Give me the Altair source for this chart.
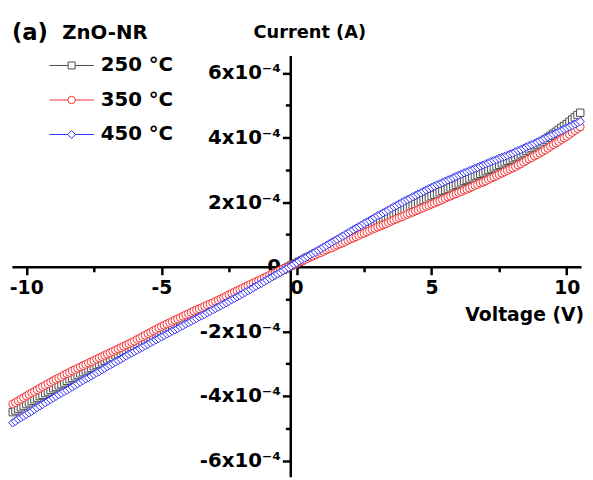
import altair as alt
import pandas as pd

# ---- data (current in units of 1e-4 A), voltage sweep -10.5 V .. 10.5 V in 0.1 V steps ----
voltage = [round(-10.5 + 0.1 * i, 1) for i in range(211)]

current_250 = [
    -4.50, -4.45, -4.40, -4.35, -4.30, -4.25, -4.20, -4.15, -4.10, -4.05,
    -4.00, -3.96, -3.91, -3.86, -3.81, -3.76, -3.72, -3.67, -3.63, -3.58,
    -3.53, -3.48, -3.44, -3.39, -3.35, -3.30, -3.26, -3.21, -3.17, -3.13,
    -3.08, -3.04, -3.00, -2.96, -2.91, -2.87, -2.83, -2.79, -2.74, -2.70,
    -2.66, -2.62, -2.57, -2.53, -2.49, -2.45, -2.40, -2.36, -2.32, -2.28,
    -2.23, -2.19, -2.15, -2.11, -2.06, -2.02, -1.98, -1.94, -1.89, -1.85,
    -1.81, -1.77, -1.72, -1.68, -1.64, -1.60, -1.56, -1.52, -1.48, -1.44,
    -1.39, -1.35, -1.31, -1.27, -1.23, -1.19, -1.14, -1.10, -1.06, -1.02,
    -0.97, -0.93, -0.89, -0.85, -0.80, -0.76, -0.71, -0.67, -0.62, -0.58,
    -0.53, -0.48, -0.44, -0.39, -0.35, -0.30, -0.26, -0.22, -0.17, -0.13,
    -0.09, -0.05, 0.00, 0.04, 0.08, 0.12, 0.16, 0.20, 0.25, 0.29,
    0.33, 0.37, 0.42, 0.46, 0.50, 0.54, 0.59, 0.63, 0.67, 0.71,
    0.76, 0.80, 0.84, 0.88, 0.93, 0.97, 1.01, 1.05, 1.09, 1.13,
    1.18, 1.22, 1.26, 1.30, 1.34, 1.38, 1.42, 1.46, 1.50, 1.54,
    1.59, 1.63, 1.67, 1.71, 1.75, 1.79, 1.83, 1.87, 1.91, 1.95,
    1.99, 2.03, 2.07, 2.11, 2.15, 2.19, 2.23, 2.27, 2.31, 2.35,
    2.38, 2.42, 2.46, 2.50, 2.54, 2.58, 2.62, 2.66, 2.69, 2.73,
    2.77, 2.81, 2.84, 2.88, 2.92, 2.96, 3.00, 3.04, 3.08, 3.12,
    3.16, 3.20, 3.24, 3.28, 3.32, 3.36, 3.40, 3.45, 3.49, 3.54,
    3.59, 3.64, 3.68, 3.73, 3.77, 3.82, 3.88, 3.94, 4.00, 4.06,
    4.12, 4.18, 4.24, 4.30, 4.36, 4.42, 4.49, 4.56, 4.63, 4.70,
    4.77,
]
current_350 = [
    -4.25, -4.20, -4.15, -4.10, -4.05, -4.00, -3.95, -3.90, -3.86, -3.81,
    -3.76, -3.71, -3.67, -3.62, -3.57, -3.52, -3.48, -3.44, -3.40, -3.35,
    -3.31, -3.27, -3.22, -3.18, -3.14, -3.10, -3.06, -3.02, -2.98, -2.94,
    -2.90, -2.86, -2.82, -2.78, -2.74, -2.70, -2.66, -2.62, -2.58, -2.54,
    -2.50, -2.46, -2.42, -2.38, -2.34, -2.30, -2.25, -2.21, -2.16, -2.12,
    -2.07, -2.03, -1.98, -1.94, -1.89, -1.85, -1.81, -1.77, -1.73, -1.69,
    -1.65, -1.61, -1.57, -1.53, -1.49, -1.45, -1.41, -1.37, -1.33, -1.30,
    -1.26, -1.22, -1.18, -1.15, -1.11, -1.07, -1.03, -0.99, -0.95, -0.91,
    -0.86, -0.82, -0.78, -0.74, -0.70, -0.66, -0.62, -0.58, -0.54, -0.50,
    -0.46, -0.42, -0.38, -0.34, -0.30, -0.26, -0.22, -0.19, -0.15, -0.11,
    -0.07, -0.04, 0.00, 0.04, 0.07, 0.11, 0.15, 0.18, 0.22, 0.26,
    0.30, 0.33, 0.37, 0.41, 0.44, 0.48, 0.52, 0.56, 0.59, 0.63,
    0.67, 0.71, 0.74, 0.78, 0.82, 0.86, 0.89, 0.93, 0.97, 1.01,
    1.04, 1.08, 1.12, 1.16, 1.19, 1.23, 1.26, 1.30, 1.33, 1.37,
    1.41, 1.45, 1.48, 1.52, 1.55, 1.59, 1.62, 1.66, 1.69, 1.73,
    1.76, 1.80, 1.83, 1.87, 1.90, 1.94, 1.97, 2.01, 2.04, 2.08,
    2.12, 2.16, 2.19, 2.23, 2.26, 2.30, 2.33, 2.37, 2.40, 2.44,
    2.48, 2.52, 2.55, 2.59, 2.62, 2.66, 2.70, 2.74, 2.78, 2.82,
    2.86, 2.90, 2.94, 2.98, 3.02, 3.06, 3.10, 3.15, 3.19, 3.24,
    3.29, 3.34, 3.38, 3.43, 3.47, 3.52, 3.57, 3.62, 3.67, 3.73,
    3.78, 3.83, 3.88, 3.94, 3.99, 4.04, 4.10, 4.16, 4.22, 4.28,
    4.33,
]
current_450 = [
    -4.83, -4.78, -4.72, -4.67, -4.62, -4.57, -4.52, -4.47, -4.41, -4.36,
    -4.31, -4.26, -4.21, -4.16, -4.11, -4.06, -4.01, -3.96, -3.91, -3.86,
    -3.82, -3.77, -3.72, -3.67, -3.62, -3.57, -3.52, -3.47, -3.43, -3.38,
    -3.33, -3.28, -3.24, -3.19, -3.14, -3.09, -3.05, -3.00, -2.95, -2.90,
    -2.86, -2.81, -2.76, -2.71, -2.67, -2.62, -2.58, -2.53, -2.49, -2.44,
    -2.40, -2.35, -2.31, -2.26, -2.22, -2.17, -2.13, -2.08, -2.04, -1.99,
    -1.95, -1.91, -1.86, -1.82, -1.77, -1.73, -1.69, -1.64, -1.60, -1.55,
    -1.51, -1.47, -1.42, -1.38, -1.33, -1.29, -1.25, -1.20, -1.16, -1.11,
    -1.07, -1.02, -0.98, -0.93, -0.89, -0.84, -0.79, -0.74, -0.70, -0.65,
    -0.60, -0.55, -0.51, -0.46, -0.41, -0.36, -0.31, -0.26, -0.22, -0.17,
    -0.12, -0.07, -0.02, 0.03, 0.08, 0.13, 0.18, 0.23, 0.27, 0.32,
    0.37, 0.42, 0.46, 0.51, 0.56, 0.61, 0.66, 0.71, 0.76, 0.81,
    0.85, 0.90, 0.95, 1.00, 1.05, 1.10, 1.15, 1.20, 1.24, 1.29,
    1.34, 1.39, 1.43, 1.48, 1.53, 1.58, 1.62, 1.67, 1.71, 1.76,
    1.81, 1.86, 1.90, 1.95, 1.99, 2.04, 2.08, 2.12, 2.17, 2.21,
    2.25, 2.29, 2.34, 2.38, 2.42, 2.46, 2.50, 2.54, 2.57, 2.61,
    2.65, 2.69, 2.72, 2.76, 2.80, 2.84, 2.87, 2.91, 2.94, 2.98,
    3.01, 3.05, 3.08, 3.12, 3.15, 3.19, 3.22, 3.26, 3.29, 3.32,
    3.36, 3.39, 3.42, 3.45, 3.49, 3.52, 3.56, 3.60, 3.63, 3.67,
    3.71, 3.75, 3.78, 3.82, 3.86, 3.90, 3.94, 3.98, 4.02, 4.06,
    4.10, 4.14, 4.18, 4.22, 4.26, 4.30, 4.34, 4.38, 4.42, 4.46,
    4.50,
]

series_names = ["250 °C", "350 °C", "450 °C"]
series_colors = ["#4a4a4a", "#f53232", "#2f2ff5"]
series_shapes = ["square", "circle", "diamond"]
series_sizes = [56, 70, 100]

x_ticks = [-10, -7.5, -5, -2.5, 0, 2.5, 5, 7.5, 10]
y_ticks = [-6, -5, -4, -3, -2, -1, 0, 1, 2, 3, 4, 5, 6]

rows = []
for name, vals in zip(series_names, [current_250, current_350, current_450]):
    for v, c in zip(voltage, vals):
        rows.append({"V": v, "I": c, "series": name})
df = pd.DataFrame(rows)

# ---- layout ----
FONT = "DejaVu Sans"
W, H = 577, 427
X_DOM = [-10.53, 10.53]
Y_DOM = [-6.5, 6.54]
Y_AXIS_AT = -0.23  # voltage where the vertical axis is drawn

y_axis_offset = -((Y_AXIS_AT - X_DOM[0]) / (X_DOM[1] - X_DOM[0]) * W)
x_axis_offset = -(H - (Y_DOM[1] - 0) / (Y_DOM[1] - Y_DOM[0]) * H)

axis_common = dict(
    title=None, grid=False, domainColor="black", domainWidth=2.5,
    tickColor="black", tickWidth=2.5, labelFont=FONT, labelFontWeight="bold",
    labelColor="black", labelOverlap=False, labelFlush=False,
)

x_enc = alt.X(
    "V:Q",
    scale=alt.Scale(domain=X_DOM, nice=False, zero=False),
    axis=alt.Axis(
        values=x_ticks,
        labelExpr="datum.value % 5 == 0 ? '' + datum.value : ''",
        offset=x_axis_offset,
        tickSize={"condition": {"test": "datum.value % 5 == 0", "value": 8}, "value": 5},
        labelFontSize=19, labelPadding=4,
        **axis_common,
    ),
)
y_enc = alt.Y(
    "I:Q",
    scale=alt.Scale(domain=Y_DOM, nice=False, zero=False),
    axis=alt.Axis(
        values=y_ticks,
        labelExpr="datum.value == 0 ? '0' : (datum.value % 2 == 0 ? datum.value + 'x10⁻⁴' : '')",
        offset=y_axis_offset,
        tickSize={"condition": {"test": "datum.value % 2 == 0", "value": 8}, "value": 5},
        labelFontSize=20, labelPadding=2,
        **axis_common,
    ),
)
color_enc = alt.Color("series:N", scale=alt.Scale(domain=series_names, range=series_colors), legend=None)
shape_enc = alt.Shape("series:N", scale=alt.Scale(domain=series_names, range=series_shapes), legend=None)
size_enc = alt.Size("series:N", scale=alt.Scale(domain=series_names, range=series_sizes), legend=None)

base = alt.Chart(df)
lines = base.mark_line(strokeWidth=1).encode(x=x_enc, y=y_enc, color=color_enc, detail="series:N")
points = base.mark_point(filled=False, fill="white", fillOpacity=1, strokeWidth=1, opacity=1).encode(
    x=x_enc, y=y_enc, color=color_enc, shape=shape_enc, size=size_enc,
    order=alt.Order("series:N"),
)
data_layer = alt.layer(lines, points)

# ---- custom legend ----
legend_df = pd.DataFrame({"series": series_names})
leg_y = alt.Y("series:N", scale=alt.Scale(domain=series_names, range=[10, 80], type="point", padding=0), axis=None)
leg_rule = alt.Chart(legend_df).mark_rule(strokeWidth=1).encode(
    x=alt.value(38), x2=alt.value(83), y=leg_y, color=color_enc)
leg_pt = alt.Chart(legend_df).mark_point(filled=False, fill="white", fillOpacity=1, strokeWidth=1, opacity=1).encode(
    x=alt.value(60.5), y=leg_y, color=color_enc, shape=shape_enc,
    size=alt.Size("series:N", scale=alt.Scale(domain=series_names, range=[50, 64, 90]), legend=None))
leg_txt = alt.Chart(legend_df).mark_text(
    align="left", baseline="middle", font=FONT, fontWeight="bold", fontSize=20, color="black"
).encode(x=alt.value(90), y=leg_y, text="series:N")
legend_layer = alt.layer(leg_rule, leg_pt, leg_txt)


def label(text, x, y, size, align="left"):
    return alt.Chart(pd.DataFrame({"t": [text]})).mark_text(
        align=align, baseline="alphabetic", font=FONT, fontWeight="bold", fontSize=size, color="black"
    ).encode(text="t:N", x=alt.value(x), y=alt.value(y))


texts = [
    label("(a)", 0, -16, 23),
    label("ZnO-NR", 51, -17, 20),
    label("Current (A)", 245, -18, 18),
    label("Voltage (V)", 580, 269, 19, align="right"),
]

chart = alt.layer(data_layer, legend_layer, *texts).resolve_scale(y="independent", size="independent").properties(
    width=W, height=H,
    padding={"left": 4, "top": 45, "right": 4, "bottom": 0},
    autosize=alt.AutoSizeParams(type="none"),
).configure_view(stroke=None)

chart.save("out.html", embed_options={"renderer": "svg", "actions": False})
